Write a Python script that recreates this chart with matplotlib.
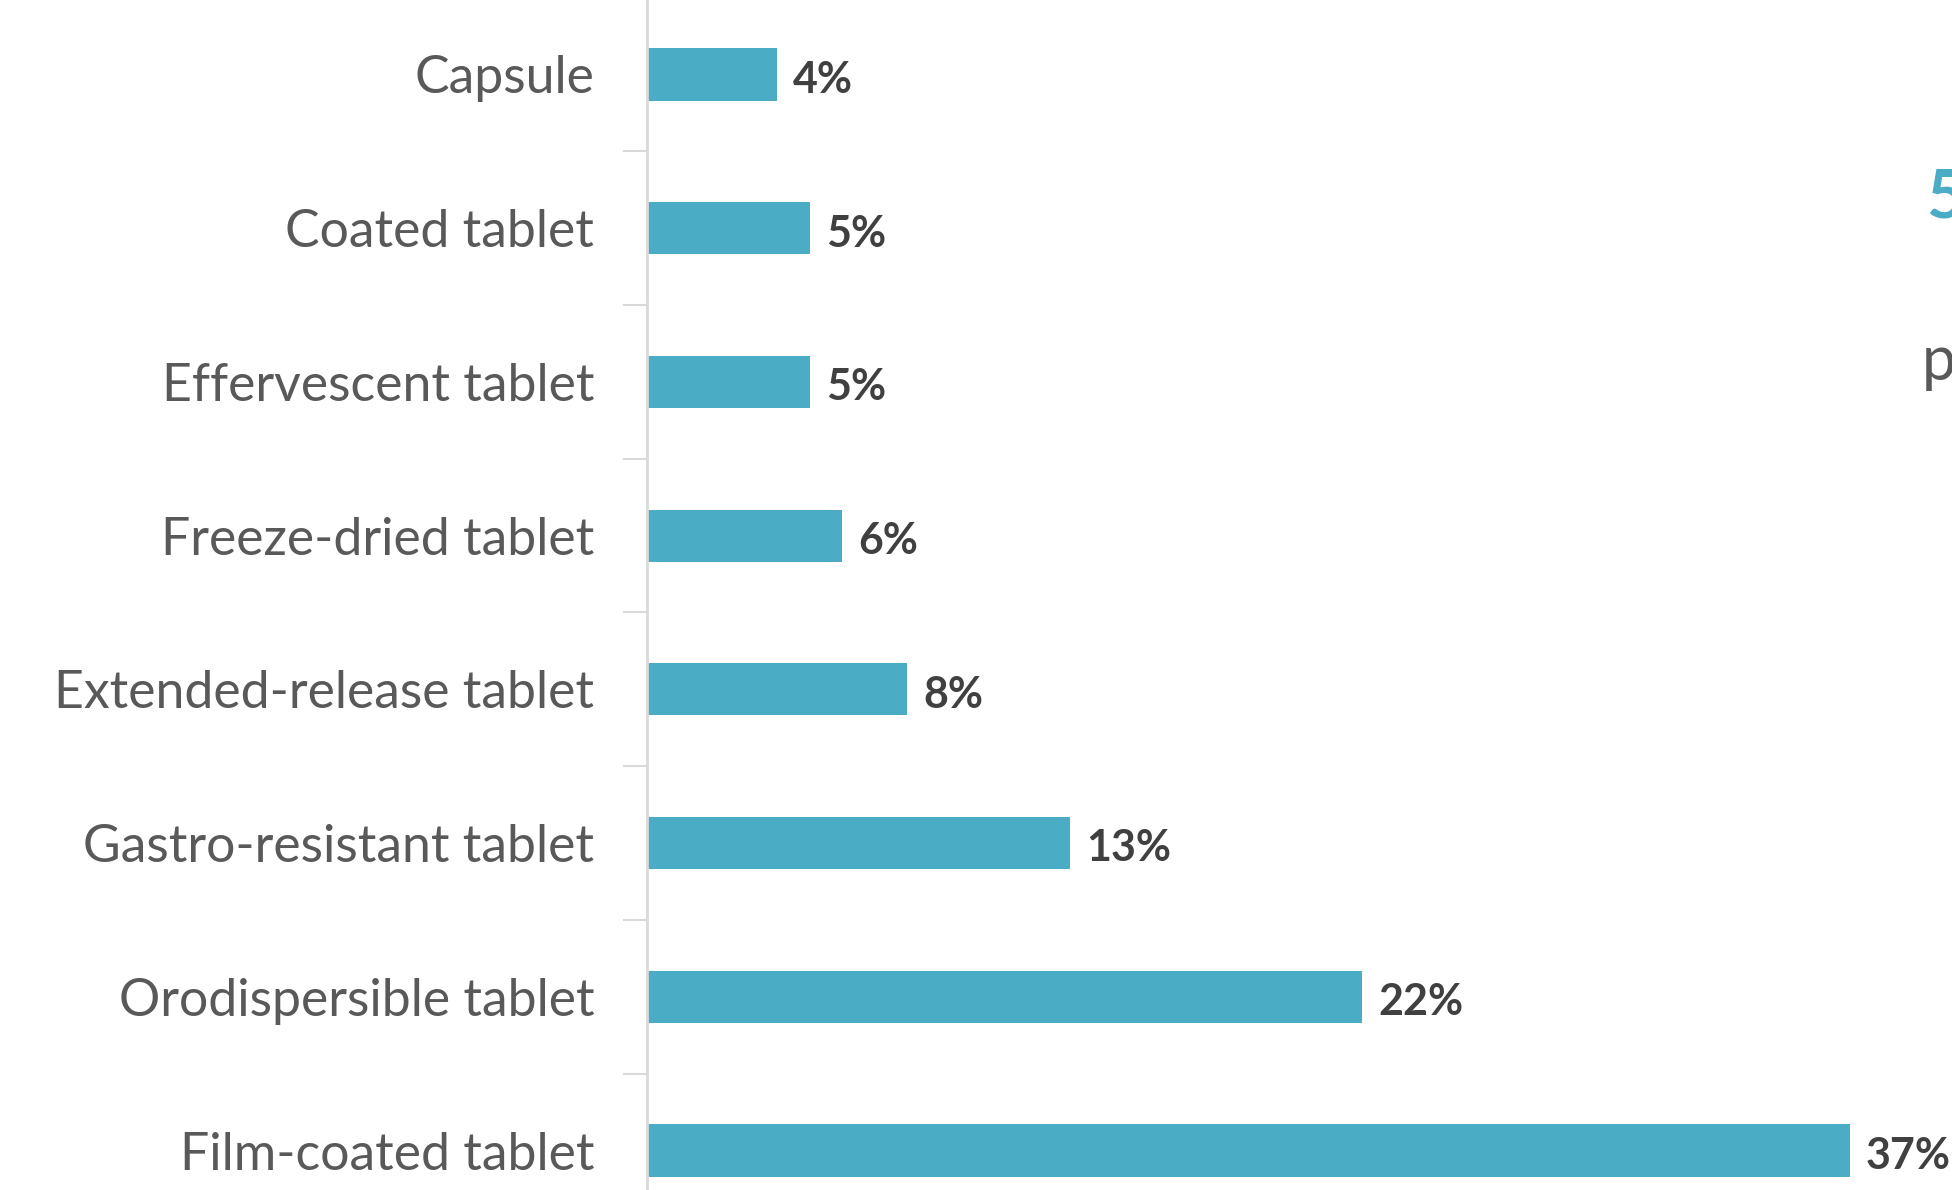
import numpy as np
import matplotlib.pyplot as plt

categories = ["Capsule", "Coated tablet", "Effervescent tablet", "Freeze-dried tablet",
              "Extended-release tablet", "Gastro-resistant tablet", "Orodispersible tablet",
              "Film-coated tablet"]
values = [4, 5, 5, 6, 8, 13, 22, 37]

bar_color = "#4BACC6"
plt.rcParams['font.family'] = ['Lato', 'DejaVu Sans']

fig = plt.figure(figsize=(19.52, 11.9), dpi=100)
# axes reach a bit past the figure edges, the chart is cropped like the original
ax = fig.add_axes([647 / 1952, -0.0314, 1300 / 1952, 1.0334])

y = np.arange(len(categories))
ax.barh(y, values, height=0.34, color=bar_color)
ax.set_ylim(len(categories) - 0.5, -0.5)
ax.set_xlim(0, 40)

for yi, v in zip(y, values):
    ax.text(v + 0.5, yi + 0.035, f"{v}%", va="center", ha="left", fontsize=31,
            fontweight="bold", color="#404040")

ax.set_yticks(y)
ax.set_yticklabels(categories, fontsize=37.3, color="#595959")
ax.set_yticks(np.arange(len(categories)) + 0.5, minor=True)
ax.tick_params(axis="y", which="major", length=0, pad=38)
ax.tick_params(axis="y", which="minor", length=17, width=1.5, color="#D9D9D9")
ax.set_xticks([])
for s in ["top", "right", "bottom"]:
    ax.spines[s].set_visible(False)
ax.spines["left"].set_color("#D9D9D9")
ax.spines["left"].set_linewidth(2)

# text from the slide next to the chart, cut off at the edge
fig.text(1926 / 1952, 1 - 218 / 1190, "5", fontsize=48, fontweight="bold",
         color=bar_color, ha="left", va="baseline")
fig.text(1922 / 1952, 1 - 380 / 1190, "p", fontsize=44, color="#595959",
         ha="left", va="baseline")

fig.savefig("out.png", dpi=100)
